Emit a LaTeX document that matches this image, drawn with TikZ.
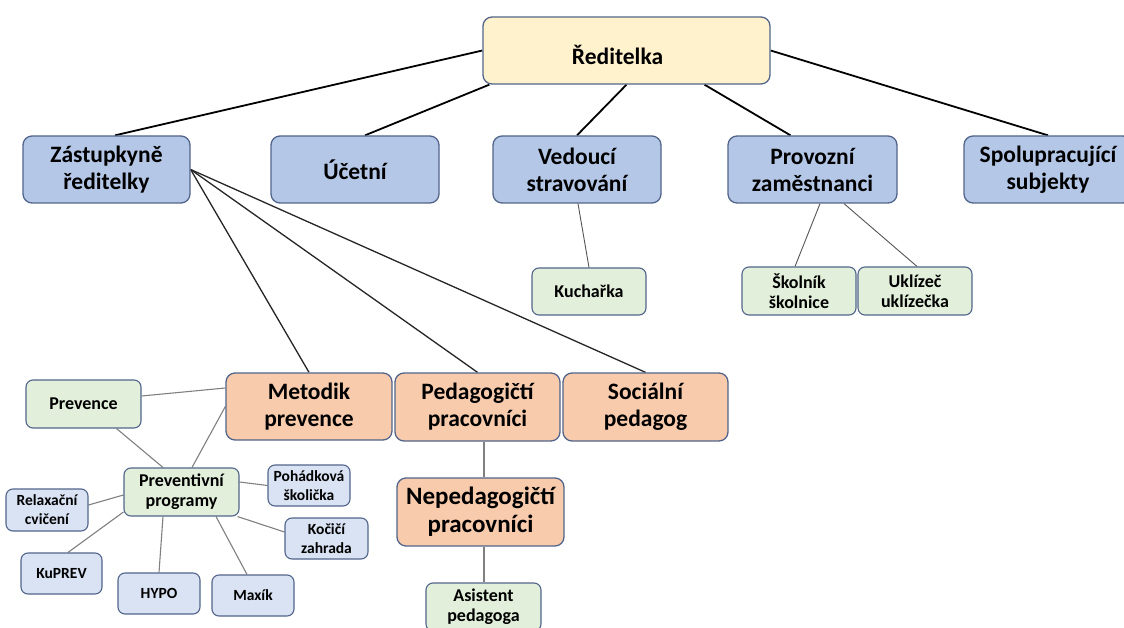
\documentclass[tikz,border=0pt]{standalone}
\usepackage{fontspec}
\setmainfont{Carlito}
\usetikzlibrary{backgrounds}
\definecolor{bord}{HTML}{52658A}
\definecolor{cyel}{HTML}{FFF2CC}
\definecolor{cblue}{HTML}{B4C7E7}
\definecolor{clblue}{HTML}{DAE3F3}
\definecolor{corange}{HTML}{F8CBAD}
\definecolor{cgreen}{HTML}{E2EFDA}
\definecolor{lgray}{HTML}{808080}
\definecolor{dgray}{HTML}{555555}
\tikzset{
  box/.style={draw=bord, line width=1.3pt, rounded corners=9pt, inner sep=0pt, align=center},
  bigbox/.style={box, font=\bfseries\fontsize{23.5}{27}\selectfont},
  smallbox/.style={box, rounded corners=7pt, line width=1.1pt, font=\bfseries\fontsize{18}{20}\selectfont},
  tinybox/.style={box, rounded corners=7pt, line width=1.1pt, fill=clblue, font=\bfseries\fontsize{15.5}{19}\selectfont},
  mainline/.style={line width=1.8pt, black},
  midline/.style={line width=1.3pt, black!85},
  thinline/.style={line width=0.9pt, dgray},
  grayline/.style={line width=1.1pt, lgray},
}
\begin{document}
\begin{tikzpicture}[x=1pt,y=-1pt]
\useasboundingbox (0,0) rectangle (1124,628);
\clip (0,0) rectangle (1124,628);
% top level
\node[bigbox, fill=cyel, minimum width=287, minimum height=67, font=\bfseries\fontsize{23.5}{27}\selectfont] (red) at (626.5,50.5) {\smash{\raisebox{-14.5pt}{Ředitelka}}\hspace*{18pt}};
\node[bigbox, fill=cblue, minimum width=167, minimum height=67] (zast) at (106.5,169.5) {Zástupkyně\\ředitelky};
\node[bigbox, fill=cblue, minimum width=168, minimum height=67] (ucet) at (355,169.5) {Účetní};
\node[bigbox, fill=cblue, minimum width=168, minimum height=67] (ved) at (577,169.5) {Vedoucí\\stravování};
\node[bigbox, fill=cblue, minimum width=169, minimum height=67] (prov) at (812.5,169.5) {Provozní\\zaměstnanci};
\node[bigbox, fill=cblue, minimum width=168, minimum height=67] (spol) at (1048,169.5) {Spolupracující\\subjekty};
% second level right
\node[smallbox, fill=cgreen, minimum width=114, minimum height=47] (kuch) at (589,291.5) {Kuchařka};
\node[smallbox, fill=cgreen, minimum width=114, minimum height=48] (skol) at (799,291) {Školník\\školnice};
\node[smallbox, fill=cgreen, minimum width=114, minimum height=48] (ukl) at (915,291) {Uklízeč\\uklízečka};
% orange
\node[bigbox, fill=corange, minimum width=166, minimum height=67] (met) at (309,406.5) {Metodik\\prevence};
\node[bigbox, fill=corange, minimum width=165, minimum height=68] (ped) at (477.5,407) {Pedagogičtí\\pracovníci};
\node[bigbox, fill=corange, minimum width=165, minimum height=68] (soc) at (645.5,407) {Sociální\\pedagog};
\node[bigbox, fill=corange, minimum width=167, minimum height=68, font=\bfseries\fontsize{25}{28}\selectfont] (neped) at (480.5,512) {Nepedagogičtí\\pracovníci};
\node[smallbox, fill=cgreen, minimum width=115, minimum height=48] (asis) at (483.5,607) {Asistent\\pedagoga};
% prevention cluster
\node[smallbox, fill=cgreen, minimum width=115, minimum height=48] (prev) at (83.5,404) {Prevence};
\node[smallbox, fill=cgreen, minimum width=115, minimum height=48] (prog) at (181.5,492) {Preventivní\\programy};
\node[tinybox, minimum width=82, minimum height=41] (poh) at (309,485.5) {Pohádková\\školička};
\node[tinybox, minimum width=83, minimum height=41] (koc) at (326.5,538.5) {Kočičí\\zahrada};
\node[tinybox, minimum width=82, minimum height=42] (rel) at (47,510) {Relaxační\\cvičení};
\node[tinybox, minimum width=81, minimum height=41] (kup) at (61.5,573.5) {KuPREV};
\node[tinybox, minimum width=82, minimum height=41] (hypo) at (159,593.5) {HYPO};
\node[tinybox, minimum width=82, minimum height=41] (max) at (253,595.5) {Maxík};
\begin{scope}[on background layer]
\fill[white] (0,0) rectangle (1124,628);
% connectors top
\draw[mainline] (red.west) -- ([xshift=8.5pt]zast.north);
\draw[mainline] ([xshift=7pt]red.south west) -- ([xshift=10pt]ucet.north);
\draw[mainline] (red.south) -- (ved.north);
\draw[mainline] ([xshift=78pt]red.south) -- ([xshift=-22pt]prov.north);
\draw[mainline] (red.east) -- (spol.north);
% from deputy
\draw[midline] (zast.east) -- (met.north);
\draw[midline] (zast.east) -- (ped.north);
\draw[midline] (zast.east) -- (soc.north);
% thin
\draw[thinline] ([xshift=1pt]ved.south) -- (kuch.north);
\draw[thinline] ([xshift=7.5pt]prov.south) -- ([xshift=-4pt]skol.north);
\draw[thinline] ([xshift=31.5pt]prov.south) -- ([xshift=2pt]ukl.north);
\draw[grayline] ([xshift=6.5pt]ped.south) -- ([xshift=3.5pt]neped.north);
\draw[grayline] ([xshift=3.5pt]neped.south) -- ([xshift=0.5pt]asis.north);
% prevention cluster
\draw[grayline] ([yshift=8pt]prev.east) -- ([yshift=18.5pt]met.west);
\draw[grayline] (met.west) -- ([xshift=10.5pt]prog.north);
\draw[grayline] ([xshift=33pt]prev.south) -- ([xshift=-18.5pt]prog.north);
\draw[grayline] ([yshift=10pt]prog.east) -- (poh.west);
\draw[grayline] ([yshift=-3pt]prog.west) -- ([yshift=5pt]rel.east);
\draw[grayline] ([xshift=-2pt]prog.south east) -- ([yshift=6.5pt]koc.west);
\draw[grayline] ([yshift=-20pt]prog.west) -- ([xshift=6.5pt]kup.north);
\draw[grayline] ([xshift=-18.5pt]prog.south) -- (hypo.north);
\draw[grayline] ([xshift=34.5pt]prog.south) -- ([xshift=-6pt]max.north);
\end{scope}
\end{tikzpicture}
\end{document}
